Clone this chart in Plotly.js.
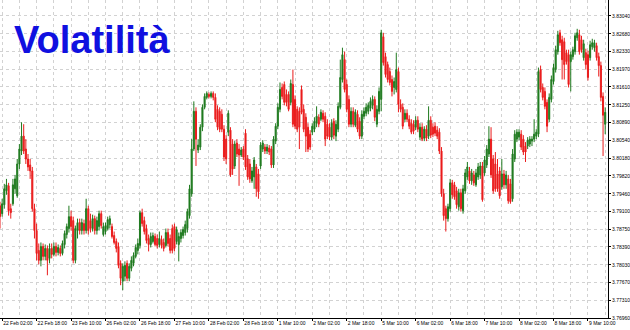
<!DOCTYPE html>
<html>
<head>
<meta charset="utf-8">
<script src="https://cdn.plot.ly/plotly-3.0.1.min.js"></script>
<style>html,body{margin:0;padding:0;background:#fff;}#chart{width:630px;height:330px;}</style>
</head>
<body>
<div id="chart"></div>
<script>
// OHLC values (hourly bars, 22 Feb 01:00 -> 9 Mar 17:00)
const openP = [3.7922,3.7906,3.7924,3.7952,3.7962,3.7916,3.7926,3.7956,3.7942,3.8006,3.8032,3.8062,3.8036,3.8016,3.8004,3.7992,3.7916,3.7872,3.7832,3.7812,3.7840,3.7820,3.7836,3.7816,3.7836,3.7824,3.7840,3.7828,3.7836,3.7826,3.7844,3.7864,3.7876,3.7900,3.7892,3.7812,3.7872,3.7888,3.7872,3.7886,3.7872,3.7916,3.7892,3.7876,3.7896,3.7872,3.7880,3.7906,3.7864,3.7870,3.7876,3.7884,3.7880,3.7862,3.7850,3.7840,3.7806,3.7770,3.7780,3.7806,3.7776,3.7796,3.7806,3.7820,3.7832,3.7842,3.7908,3.7892,3.7876,3.7856,3.7844,3.7850,3.7860,3.7856,3.7844,3.7854,3.7848,3.7842,3.7868,3.7856,3.7876,3.7880,3.7850,3.7844,3.7856,3.7862,3.7868,3.7876,3.7902,3.7946,3.8036,3.8112,3.8034,3.8040,3.8080,3.8120,3.8140,3.8146,3.8142,3.8148,3.8140,3.8116,3.8112,3.8106,3.8076,3.8056,3.8070,3.8074,3.8046,3.8002,3.8048,3.8036,3.8024,3.8036,3.8068,3.8016,3.8006,3.7972,3.7980,3.8000,3.7986,3.8002,3.8036,3.8040,3.8032,3.8038,3.8036,3.8004,3.8052,3.8082,3.8116,3.8160,3.8166,3.8146,3.8146,3.8130,3.8166,3.8136,3.8116,3.8112,3.8156,3.8116,3.8100,3.8080,3.8066,3.8070,3.8076,3.8088,3.8100,3.8096,3.8108,3.8102,3.8086,3.8080,3.8060,3.8092,3.8062,3.8076,3.8120,3.8176,3.8216,3.8166,3.8136,3.8086,3.8112,3.8084,3.8106,3.8092,3.8062,3.8102,3.8108,3.8112,3.8118,3.8124,3.8136,3.8086,3.8112,3.8136,3.8262,3.8222,3.8206,3.8192,3.8176,3.8160,3.8156,3.8192,3.8126,3.8120,3.8096,3.8108,3.8096,3.8088,3.8086,3.8080,3.8094,3.8060,3.8080,3.8058,3.8076,3.8062,3.8094,3.8080,3.8082,3.8074,3.8070,3.8032,3.7946,3.7916,3.7896,3.7916,3.7968,3.7964,3.7952,3.7920,3.7948,3.7912,3.7952,3.7980,3.7992,3.7972,3.7984,3.7964,3.7980,3.7984,3.8002,3.7988,3.8004,3.8026,3.8056,3.8016,3.8006,3.7986,3.7992,3.7960,3.7986,3.7964,3.7976,3.7966,3.7936,3.8016,3.8056,3.8060,3.8066,3.8056,3.8042,3.8042,3.8046,3.8052,3.8056,3.8062,3.8066,3.8196,3.8160,3.8152,3.8130,3.8096,3.8136,3.8172,3.8196,3.8232,3.8270,3.8256,3.8252,3.8230,3.8226,3.8212,3.8222,3.8232,3.8260,3.8266,3.8256,3.8220,3.8230,3.8226,3.8220,3.8242,3.8240,3.8244,3.8222,3.8204,3.8142,3.8086];
const highP = [3.7930,3.7936,3.7966,3.7976,3.7968,3.7926,3.7976,3.7984,3.8016,3.8046,3.8090,3.8086,3.8056,3.8026,3.8016,3.8000,3.7926,3.7886,3.7846,3.7848,3.7846,3.7844,3.7842,3.7846,3.7846,3.7848,3.7848,3.7844,3.7842,3.7852,3.7872,3.7886,3.7922,3.7912,3.7900,3.7882,3.7896,3.7896,3.7896,3.7894,3.7936,3.7922,3.7906,3.7904,3.7902,3.7900,3.7912,3.7912,3.7888,3.7888,3.7900,3.7902,3.7886,3.7870,3.7856,3.7848,3.7812,3.7806,3.7810,3.7812,3.7806,3.7820,3.7828,3.7844,3.7856,3.7912,3.7916,3.7900,3.7884,3.7864,3.7868,3.7868,3.7866,3.7864,3.7870,3.7862,3.7856,3.7876,3.7876,3.7864,3.7884,3.7886,3.7880,3.7868,3.7874,3.7880,3.7892,3.7916,3.7964,3.8056,3.8132,3.8120,3.8056,3.8086,3.8126,3.8148,3.8152,3.8150,3.8152,3.8152,3.8148,3.8124,3.8120,3.8116,3.8084,3.8064,3.8114,3.8080,3.8056,3.8052,3.8056,3.8046,3.8040,3.8042,3.8076,3.8024,3.8016,3.8000,3.8020,3.8006,3.7996,3.8050,3.8054,3.8046,3.8046,3.8044,3.8042,3.8062,3.8088,3.8128,3.8170,3.8168,3.8172,3.8156,3.8152,3.8176,3.8196,3.8144,3.8122,3.8120,3.8164,3.8126,3.8108,3.8088,3.8074,3.8088,3.8100,3.8122,3.8106,3.8116,3.8114,3.8110,3.8096,3.8088,3.8096,3.8098,3.8094,3.8130,3.8216,3.8240,3.8232,3.8176,3.8144,3.8120,3.8120,3.8116,3.8114,3.8100,3.8114,3.8120,3.8128,3.8130,3.8140,3.8144,3.8142,3.8124,3.8160,3.8276,3.8270,3.8230,3.8212,3.8200,3.8184,3.8180,3.8230,3.8200,3.8136,3.8128,3.8116,3.8116,3.8104,3.8096,3.8094,3.8102,3.8102,3.8088,3.8088,3.8082,3.8084,3.8122,3.8102,3.8088,3.8090,3.8082,3.8078,3.8040,3.7956,3.7922,3.7926,3.7976,3.7974,3.7970,3.7960,3.7956,3.7956,3.7964,3.7996,3.8010,3.8000,3.7996,3.7992,3.7996,3.8008,3.8010,3.8010,3.8022,3.8044,3.8082,3.8080,3.8024,3.8030,3.8016,3.8000,3.8016,3.7994,3.7992,3.7984,3.7976,3.8036,3.8074,3.8076,3.8076,3.8074,3.8064,3.8050,3.8060,3.8062,3.8062,3.8096,3.8076,3.8200,3.8204,3.8168,3.8160,3.8136,3.8148,3.8184,3.8208,3.8244,3.8274,3.8276,3.8264,3.8260,3.8236,3.8236,3.8232,3.8242,3.8270,3.8278,3.8276,3.8264,3.8256,3.8238,3.8234,3.8254,3.8258,3.8256,3.8250,3.8230,3.8212,3.8150,3.8120];
const lowP = [3.7876,3.7900,3.7916,3.7944,3.7902,3.7896,3.7922,3.7946,3.7938,3.7996,3.8024,3.8026,3.8006,3.7992,3.7976,3.7910,3.7856,3.7812,3.7804,3.7800,3.7812,3.7812,3.7782,3.7806,3.7816,3.7820,3.7820,3.7822,3.7820,3.7822,3.7836,3.7856,3.7868,3.7872,3.7806,3.7806,3.7856,3.7864,3.7864,3.7864,3.7866,3.7864,3.7868,3.7870,3.7864,3.7864,3.7872,3.7876,3.7860,3.7864,3.7872,3.7876,3.7856,3.7844,3.7828,3.7796,3.7762,3.7752,3.7770,3.7770,3.7770,3.7790,3.7800,3.7816,3.7824,3.7836,3.7880,3.7864,3.7846,3.7830,3.7838,3.7846,3.7840,3.7836,3.7838,3.7836,3.7830,3.7838,3.7840,3.7826,3.7826,3.7830,3.7844,3.7810,3.7848,3.7856,3.7862,3.7868,3.7896,3.7940,3.8032,3.8002,3.8028,3.8034,3.8072,3.8116,3.8136,3.8138,3.8138,3.8134,3.8090,3.8074,3.8070,3.8070,3.8012,3.8006,3.8062,3.7980,3.7984,3.7996,3.8020,3.7962,3.8020,3.8014,3.7994,3.7974,3.7968,3.7968,3.7956,3.7940,3.7936,3.7996,3.8030,3.8026,3.8026,3.8024,3.7998,3.7998,3.8046,3.8076,3.8110,3.8136,3.8124,3.8122,3.8112,3.8124,3.8080,3.8076,3.8070,3.8036,3.8106,3.8070,3.8030,3.8030,3.8034,3.8064,3.8070,3.8080,3.8080,3.8092,3.8090,3.8042,3.8056,3.8054,3.8054,3.8056,3.8052,3.8070,3.8116,3.8170,3.8150,3.8110,3.8080,3.8080,3.8080,3.8080,3.8070,3.8056,3.8056,3.8096,3.8102,3.8106,3.8112,3.8116,3.8092,3.8080,3.8106,3.8112,3.8204,3.8180,3.8170,3.8164,3.8142,3.8146,3.8150,3.8110,3.8110,3.8076,3.8090,3.8090,3.8076,3.8066,3.8066,3.8074,3.8070,3.8054,3.8052,3.8052,3.8052,3.8056,3.8058,3.8060,3.8062,3.8056,3.8026,3.7940,3.7892,3.7870,3.7890,3.7910,3.7936,3.7934,3.7916,3.7912,3.7910,3.7906,3.7946,3.7974,3.7966,3.7964,3.7962,3.7960,3.7974,3.7976,3.7930,3.7982,3.7998,3.8020,3.7978,3.7946,3.7950,3.7950,3.7936,3.7954,3.7956,3.7956,3.7926,3.7926,3.7930,3.8010,3.8050,3.8054,3.8034,3.8024,3.8010,3.8036,3.8040,3.8042,3.8050,3.8056,3.8060,3.8150,3.8134,3.8116,3.8070,3.8090,3.8130,3.8166,3.8190,3.8226,3.8244,3.8176,3.8176,3.8206,3.8160,3.8152,3.8216,3.8226,3.8254,3.8226,3.8230,3.8214,3.8196,3.8174,3.8214,3.8236,3.8232,3.8214,3.8182,3.8132,3.8022,3.8066];
const closeP = [3.7900,3.7926,3.7956,3.7964,3.7912,3.7908,3.7964,3.7976,3.8006,3.8036,3.8062,3.8032,3.8016,3.8000,3.7992,3.7916,3.7872,3.7826,3.7812,3.7840,3.7820,3.7836,3.7812,3.7836,3.7824,3.7840,3.7828,3.7838,3.7826,3.7846,3.7866,3.7880,3.7900,3.7880,3.7812,3.7876,3.7888,3.7872,3.7888,3.7872,3.7916,3.7872,3.7876,3.7896,3.7872,3.7892,3.7906,3.7882,3.7880,3.7882,3.7894,3.7896,3.7860,3.7848,3.7836,3.7802,3.7776,3.7800,3.7802,3.7776,3.7800,3.7812,3.7822,3.7838,3.7846,3.7908,3.7886,3.7870,3.7852,3.7844,3.7860,3.7862,3.7844,3.7842,3.7856,3.7842,3.7836,3.7868,3.7846,3.7832,3.7832,3.7836,3.7874,3.7860,3.7868,3.7874,3.7884,3.7910,3.7956,3.8036,3.8112,3.8056,3.8044,3.8080,3.8120,3.8142,3.8148,3.8142,3.8148,3.8140,3.8096,3.8080,3.8076,3.8076,3.8020,3.8016,3.8108,3.7984,3.7996,3.8046,3.8026,3.8024,3.8034,3.8020,3.8000,3.7980,3.7976,3.7992,3.8014,3.7956,3.7950,3.8044,3.8048,3.8032,3.8040,3.8030,3.8004,3.8056,3.8082,3.8120,3.8156,3.8142,3.8130,3.8130,3.8116,3.8168,3.8086,3.8082,3.8076,3.8080,3.8110,3.8076,3.8062,3.8036,3.8040,3.8082,3.8092,3.8102,3.8086,3.8110,3.8096,3.8056,3.8062,3.8060,3.8088,3.8064,3.8086,3.8122,3.8180,3.8226,3.8156,3.8116,3.8086,3.8112,3.8086,3.8110,3.8076,3.8062,3.8106,3.8112,3.8120,3.8124,3.8132,3.8136,3.8100,3.8116,3.8152,3.8270,3.8210,3.8186,3.8176,3.8170,3.8152,3.8172,3.8196,3.8126,3.8116,3.8082,3.8108,3.8096,3.8082,3.8070,3.8072,3.8094,3.8076,3.8080,3.8056,3.8076,3.8058,3.8094,3.8064,3.8066,3.8068,3.8062,3.8032,3.7946,3.7902,3.7896,3.7920,3.7968,3.7944,3.7940,3.7924,3.7948,3.7916,3.7956,3.7988,3.8000,3.7972,3.7988,3.7968,3.7988,3.8000,3.8002,3.7934,3.8014,3.8036,3.8056,3.7984,3.7952,3.7956,3.7956,3.7942,3.7986,3.7964,3.7984,3.7932,3.7930,3.8026,3.8066,3.8070,3.8070,3.8040,3.8030,3.8030,3.8054,3.8056,3.8056,3.8066,3.8070,3.8192,3.8156,3.8140,3.8122,3.8082,3.8140,3.8176,3.8200,3.8236,3.8266,3.8250,3.8216,3.8206,3.8212,3.8166,3.8226,3.8236,3.8264,3.8270,3.8232,3.8236,3.8248,3.8206,3.8180,3.8246,3.8250,3.8250,3.8220,3.8204,3.8140,3.8104,3.8110];

// time-axis labels and the bar each one belongs to
const xLabelBars = [1,17,33,49,65,81,97,113,129,145,161,177,193,209,225,241,257,273];
const xLabels = ["22 Feb 02:00","22 Feb 18:00","23 Feb 10:00","26 Feb 02:00","26 Feb 18:00","27 Feb 10:00","28 Feb 02:00","28 Feb 18:00","1 Mar 10:00","2 Mar 02:00","2 Mar 18:00","5 Mar 10:00","6 Mar 02:00","6 Mar 18:00","7 Mar 10:00","8 Mar 02:00","8 Mar 18:00","9 Mar 10:00"];
// price-axis labels
const yTickVals = [3.83040,3.82680,3.82330,3.81970,3.81610,3.81250,3.80890,3.80540,3.80180,3.79820,3.79460,3.79100,3.78750,3.78390,3.78030,3.77670,3.77310,3.76960];
const yTickText = ["3.83040","3.82680","3.82330","3.81970","3.81610","3.81250","3.80890","3.80540","3.80180","3.79820","3.79460","3.79100","3.78750","3.78390","3.78030","3.77670","3.77310","3.76960"];

const barIndex = openP.map((_, i) => i);
const GREEN = '#1f7a1f', RED = '#ea1c1c';

const trace = {
  type: 'candlestick',
  x: barIndex, open: openP, high: highP, low: lowP, close: closeP,
  increasing: {line: {color: GREEN, width: 1}, fillcolor: GREEN},
  decreasing: {line: {color: RED, width: 1}, fillcolor: RED},
  whiskerwidth: 0,
  hoverinfo: 'skip',
  showlegend: false
};

const tickFont = {family: 'Liberation Sans, Arial, sans-serif', size: 5, color: '#000'};
const layout = {
  width: 630, height: 330,
  margin: {l: 0, r: 22, t: 0, b: 12, pad: 0},
  paper_bgcolor: '#fff', plot_bgcolor: '#fff',
  showlegend: false,
  xaxis: {
    range: [0, 282.3],
    rangeslider: {visible: false},
    tickmode: 'array', tickvals: xLabelBars, ticktext: xLabels,
    ticklabelposition: 'outside right', tickangle: 0,
    ticks: 'outside', ticklen: 2, tickcolor: '#000', tickwidth: 1,
    tickfont: tickFont,
    showgrid: true, gridcolor: '#d2d2d2', gridwidth: 1, griddash: 'dot',
    minor: {tickmode: 'linear', tick0: 9, dtick: 16, showgrid: true, gridcolor: '#d2d2d2', gridwidth: 1, griddash: 'dot', ticks: ''},
    showline: true, linecolor: '#000', linewidth: 1,
    zeroline: false, fixedrange: true
  },
  yaxis: {
    side: 'right',
    range: [3.7696, 3.8336],
    tickmode: 'array', tickvals: yTickVals, ticktext: yTickText,
    ticks: 'outside', ticklen: 2, tickcolor: '#000', tickwidth: 1,
    tickfont: tickFont,
    showgrid: true, gridcolor: '#d2d2d2', gridwidth: 1, griddash: 'dot',
    showline: true, linecolor: '#000', linewidth: 1,
    zeroline: false, fixedrange: true
  },
  annotations: [{
    text: '<b>Volatilità</b>',
    xref: 'paper', yref: 'paper', x: 0.019, y: 0.874,
    xanchor: 'left', yanchor: 'middle', showarrow: false,
    font: {family: 'Liberation Sans, Arial, sans-serif', size: 38, color: '#1010e0'}
  }]
};

Plotly.newPlot('chart', [trace], layout, {displayModeBar: false, staticPlot: true});
</script>
</body>
</html>
